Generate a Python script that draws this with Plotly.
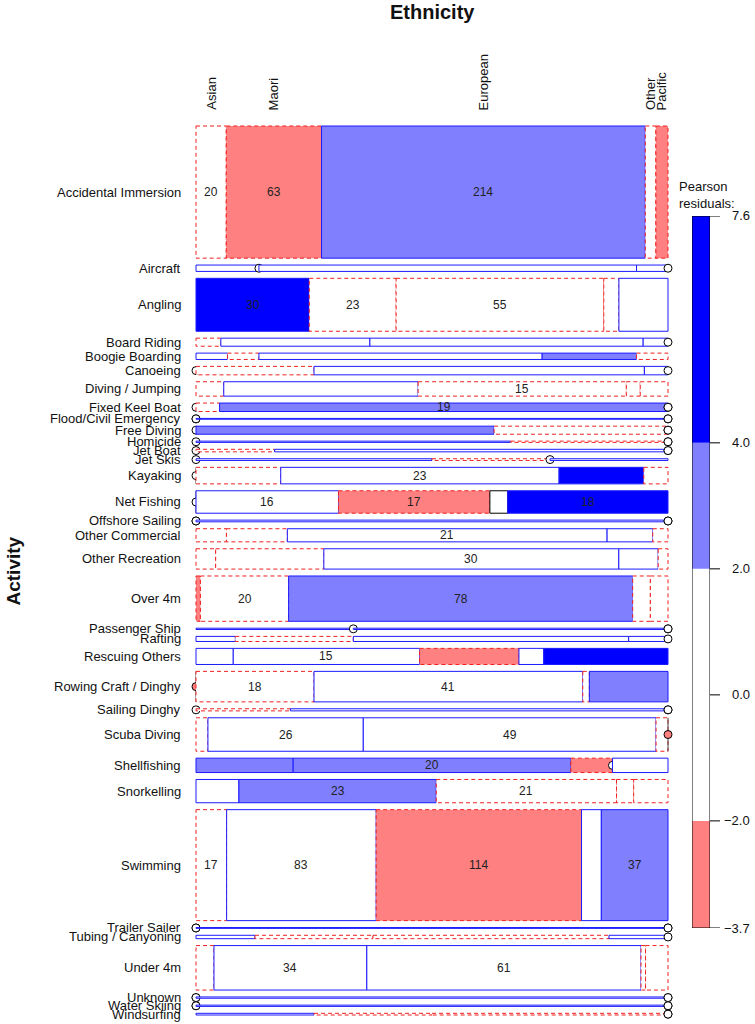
import plotly.graph_objects as go
import numpy as np

activities = ["Accidental Immersion", "Aircraft", "Angling", "Board Riding", "Boogie Boarding",
              "Canoeing", "Diving / Jumping", "Fixed Keel Boat", "Flood/Civil Emergency", "Free Diving",
              "Homicide", "Jet Boat", "Jet Skis", "Kayaking", "Net Fishing", "Offshore Sailing",
              "Other Commercial", "Other Recreation", "Over 4m", "Passenger Ship", "Rafting",
              "Rescuing Others", "Rowing Craft / Dinghy", "Sailing Dinghy", "Scuba Diving",
              "Shellfishing", "Snorkelling", "Swimming", "Trailer Sailer", "Tubing / Canyoning",
              "Under 4m", "Unknown", "Water Skiing", "Windsurfing"]
ethnicities = ["Asian", "Maori", "European", "Other", "Pacific"]

asian    = [20, 2, 30, 1, 1, 0, 2, 0, 0, 0, 0, 0, 0, 0, 0, 0, 2, 2, 1, 1, 1, 3, 0, 0, 2, 7, 5, 17, 0, 1, 4, 0, 0, 1]
maori    = [63, 0, 23, 6, 1, 5, 14, 1, 0, 12, 2, 1, 2, 7, 16, 0, 4, 11, 20, 0, 3, 15, 18, 1, 26, 20, 23, 83, 0, 2, 34, 0, 0, 1]
european = [214, 12, 55, 11, 9, 14, 15, 19, 2, 7, 1, 5, 1, 23, 17, 4, 21, 30, 78, 2, 7, 8, 41, 4, 49, 3, 21, 114, 2, 4, 61, 3, 3, 2]
other    = [7, 1, 4, 1, 3, 1, 1, 0, 0, 0, 0, 0, 0, 7, 2, 0, 3, 4, 4, 0, 1, 2, 1, 0, 2, 0, 2, 11, 0, 1, 1, 0, 0, 0]
pacific  = [8, 0, 13, 0, 1, 0, 2, 0, 0, 0, 0, 0, 1, 2, 18, 0, 1, 1, 4, 0, 0, 10, 12, 0, 0, 4, 4, 37, 0, 0, 5, 0, 0, 0]

legend_ticks = [7.6, 4.0, 2.0, 0.0, -2.0, -3.7]
legend_tick_labels = ["7.6", "4.0", "2.0", "0.0", "\u22122.0", "\u22123.7"]

# ---------------- styling / layout constants ----------------
FONT = "Liberation Sans, Arial, Helvetica, sans-serif"
DARK_BLUE, LIGHT_BLUE, LIGHT_RED, WHITE = "#0000ff", "#8080ff", "#ff8080", "#ffffff"
BLUE_LINE, RED_LINE = "#1a1aff", "#f02020"
TXT = "#111111"
FW, FH = 755, 1024                       # figure size (page body margin removed below)
PL, PR, PT, PB = 196, 668, 126, 1015     # plot box in page pixels
PAD = 10
ML, MT = PL - PAD, PT - PAD              # figure margins
PW, PH = FW - ML, FH - MT
GAP = 16.3          # vertical spacing between rows, in count units
LABEL_MIN = 15      # cells with at least this count get their count printed

def px(xp):      # page x pixel -> paper fraction
    return (xp - ML) / PW

def py(yp):      # page y pixel -> paper fraction
    return (FH - yp) / PH

counts = np.array([asian, maori, european, other, pacific], dtype=float).T
N = counts.sum()
row_tot = counts.sum(axis=1)
col_tot = counts.sum(axis=0)
expected = np.outer(row_tot, col_tot) / N
resid = (counts - expected) / np.sqrt(expected)

def fill_for(r):
    if r > 4:
        return DARK_BLUE
    if r > 2:
        return LIGHT_BLUE
    if r < -2:
        return LIGHT_RED
    return WHITE

def line_for(r):
    if abs(r) < 0.01:
        return dict(color="black", width=1)
    if r > 0:
        return dict(color=BLUE_LINE, width=1)
    return dict(color=RED_LINE, width=1, dash="4px,3px")

n_rows = len(activities)
Ytot = N + GAP * (n_rows - 1)
upp = Ytot / (PB - PT)   # count-units per pixel
y_range = [Ytot + (FH - PB) * upp, -PAD * upp]
x_pad = PAD / (PR - PL)

fig = go.Figure()
shapes, annotations = [], []

cursor = 0.0
for i, act in enumerate(activities):
    tot = row_tot[i]
    y0, y1 = cursor, cursor + tot
    ym = (y0 + y1) / 2
    cum = 0.0
    for j in range(len(ethnicities)):
        c = counts[i, j]
        r = resid[i, j]
        xa = cum / tot
        if c == 0:
            shapes.append(dict(type="line", xref="x", yref="y", x0=xa, x1=xa, y0=y0, y1=y1,
                               line=dict(color="#444444", width=1)))
            shapes.append(dict(type="circle", xref="x", yref="y", xsizemode="pixel", ysizemode="pixel",
                               xanchor=xa, yanchor=ym, x0=-4, x1=4, y0=-4, y1=4,
                               fillcolor=fill_for(r), line=dict(color="black", width=1)))
        else:
            xb = (cum + c) / tot
            shapes.append(dict(type="rect", xref="x", yref="y", x0=xa, x1=xb, y0=y0, y1=y1,
                               fillcolor=fill_for(r), line=line_for(r)))
            if c >= LABEL_MIN:
                annotations.append(dict(x=(xa + xb) / 2, y=ym, xref="x", yref="y", text=str(int(c)),
                                        xanchor="center", yanchor="middle", showarrow=False,
                                        font=dict(size=12, color="#222222", family=FONT)))
        cum += c
    annotations.append(dict(x=0, y=ym, xref="x", yref="y", text=act, xanchor="right", yanchor="middle",
                            xshift=-13, showarrow=False, font=dict(size=13, color=TXT, family=FONT)))
    cursor = y1 + GAP

# column labels centred on the tiles of the first row
cum = 0.0
for j, eth in enumerate(ethnicities):
    c = counts[0, j]
    xc = (cum + c / 2) / row_tot[0]
    annotations.append(dict(x=xc, y=0, xref="x", yref="y", text=eth, textangle=-90,
                            xanchor="center", yanchor="bottom", yshift=14, showarrow=False,
                            font=dict(size=13, color=TXT, family=FONT)))
    cum += c

# axis titles
annotations.append(dict(x=px((PL + PR) / 2), y=py(12), xref="paper", yref="paper", text="<b>Ethnicity</b>",
                        xanchor="center", yanchor="middle", showarrow=False,
                        font=dict(size=20, color=TXT, family=FONT)))
annotations.append(dict(x=px(13), y=py((PT + PB) / 2), xref="paper", yref="paper", text="<b>Activity</b>",
                        xanchor="center", yanchor="middle", textangle=-90, showarrow=False,
                        font=dict(size=19, color=TXT, family=FONT)))

# ---------------- legend (shading key) ----------------
lo, hi = min(legend_ticks), max(legend_ticks)
segments = [(lo, -2.0, LIGHT_RED), (-2.0, 2.0, WHITE), (2.0, 4.0, LIGHT_BLUE), (4.0, hi, DARK_BLUE)]
for a, b, col in segments:
    shapes.append(dict(type="rect", xref="x2", yref="y2", x0=0, x1=1, y0=a, y1=b,
                       fillcolor=col, line=dict(width=0)))
shapes.append(dict(type="rect", xref="x2", yref="y2", x0=0, x1=1, y0=lo, y1=hi,
                   fillcolor="rgba(0,0,0,0)", line=dict(color="black", width=1)))
for t, lab in zip(legend_ticks, legend_tick_labels):
    shapes.append(dict(type="line", xref="paper", yref="y2", x0=px(710), x1=px(720), y0=t, y1=t,
                       line=dict(color="black", width=1)))
    annotations.append(dict(x=px(752), y=t, xref="paper", yref="y2", text=lab,
                            xanchor="right", yanchor="middle", showarrow=False,
                            font=dict(size=13, color=TXT, family=FONT)))
annotations.append(dict(x=px(677), y=py(195), xref="paper", yref="paper", text="Pearson<br>residuals:",
                        xanchor="left", yanchor="middle", align="left", showarrow=False,
                        font=dict(size=13, color=TXT, family=FONT)))

fig.update_layout(
    width=FW, height=FH,
    margin=dict(l=ML, r=0, t=MT, b=0, pad=0),
    paper_bgcolor="white", plot_bgcolor="white",
    showlegend=False,
    xaxis=dict(range=[-x_pad, 1 + x_pad], domain=[0, px(PR + PAD)], visible=False, fixedrange=True),
    yaxis=dict(range=y_range, domain=[0, 1], visible=False, fixedrange=True),
    xaxis2=dict(range=[0, 1], domain=[px(692), px(710)], anchor="y2", visible=False, fixedrange=True),
    yaxis2=dict(range=[lo, hi], domain=[py(928), py(216)], anchor="x2", visible=False, fixedrange=True),
    shapes=shapes, annotations=annotations,
)
# invisible traces so both subplots exist
fig.add_trace(go.Scatter(x=[0.5], y=[0], mode="markers", marker=dict(opacity=0), hoverinfo="skip"))
fig.add_trace(go.Scatter(x=[0.5], y=[0], xaxis="x2", yaxis="y2", mode="markers",
                         marker=dict(opacity=0), hoverinfo="skip"))

fig.write_html("out.html", config={"displayModeBar": False, "staticPlot": True},
               post_script="document.body.style.margin='0px';document.body.style.overflow='hidden';")
